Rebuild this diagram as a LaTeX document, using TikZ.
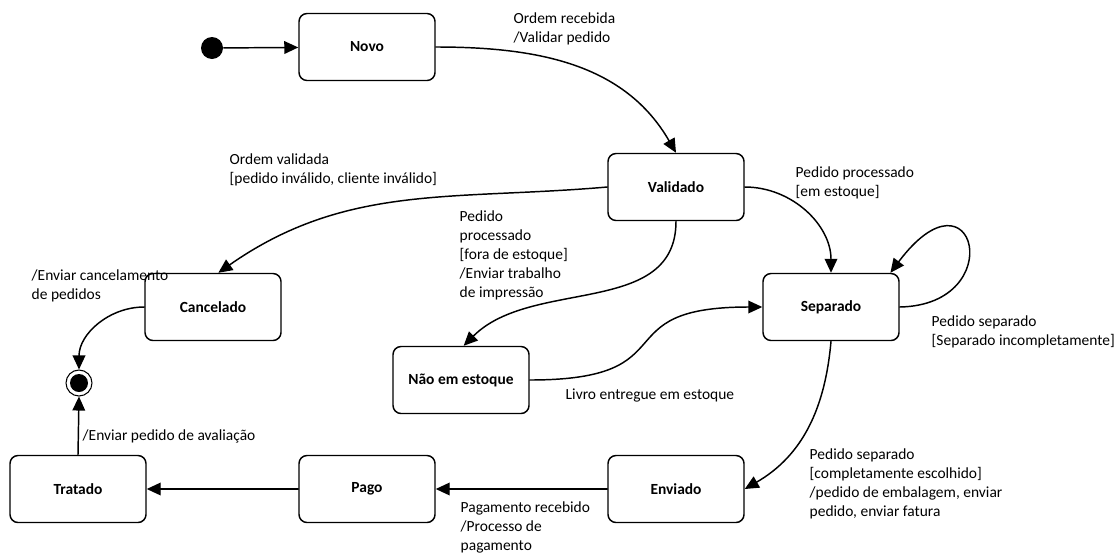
\documentclass[tikz,border=0pt]{standalone}
\usepackage{fontspec}
\setmainfont{Carlito}
\usetikzlibrary{arrows.meta}
\tikzset{
	estado/.style={draw,rounded corners=6pt,minimum width=102pt,minimum height=50.25pt,inner sep=0pt,font=\fontsize{11.6}{14.25}\selectfont\bfseries},
	rotulo/.style={anchor=west,align=left,inner sep=0pt,font=\fontsize{11.6}{14.25}\selectfont},
	seta/.style={-{Triangle[length=10.5pt,width=9.5pt]}}
}
\begin{document}
\begin{tikzpicture}[line cap=round,line join=round,x=0.75pt,y=0.75pt,line width=1.1pt]
				\useasboundingbox (0,0) rectangle (1116,-554);
				\node[circle,fill=black,minimum size=16.5pt,inner sep=0pt] (ini) at (212,-48) {};
				\node[estado] (nov) at (367,-47) {Novo};
				\node[estado] (val) at (676,-187) {Validado};
				\node[estado] (can) at (213,-307) {Cancelado};
				\node[estado] (sep) at (831,-307) {Separado};
				\node[estado] (nao) at (461,-380) {Não em estoque};
				\node[estado] (tra) at (78,-489) {Tratado};
				\node[estado] (pag) at (367,-489) {Pago};
				\node[estado] (env) at (676,-489) {Enviado};
				\node[circle,draw,line width=0.8pt,minimum size=19.5pt,inner sep=0pt] (fim) at (79,-383) {};
				\node[circle,fill=black,minimum size=13.5pt,inner sep=0pt] (fimc) at (fim) {};
				\node[rotulo] (lnov) at (513,-28.5) {Ordem recebida\\/Validar pedido};
				\node[rotulo] (lcan) at (229,-169.5) {Ordem validada\\{[}pedido inválido, cliente inválido{]}};
				\node[rotulo] (lsep) at (795,-183) {Pedido processado\\{[}em estoque{]}};
				\node[rotulo] (lnao) at (459,-255.5) {Pedido\\processado\\{[}fora de estoque{]}\\/Enviar trabalho\\de impressão};
				\node[rotulo] (lfim) at (31,-286) {/Enviar cancelamento\\de pedidos};
				\node[rotulo] (lloop) at (931,-332) {Pedido separado\\{[}Separado incompletamente{]}};
				\node[rotulo] (lliv) at (565,-395) {Livro entregue em estoque};
				\node[rotulo] (lenv) at (809,-484) {Pedido separado\\{[}completamente escolhido{]}\\/pedido de embalagem, enviar\\pedido, enviar fatura};
				\node[rotulo] (lpag) at (460,-527.5) {Pagamento recebido\\/Processo de\\pagamento};
				\node[rotulo] (ltra) at (82,-436) {/Enviar pedido de avaliação};
				\draw [seta] (ini) -- (nov);
				\draw [seta] (nov.east) to[out=0,in=120] (val.north);
				\draw [seta] (val.west) to[out=185,in=35] ([xshift=4pt]can.north);
				\draw [seta] (val.east) to[out=0,in=90] (sep.north);
				\draw [seta] (val.south) to[out=-90,in=45] ([xshift=2pt]nao.north);
				\draw [seta] (nao.east) to[out=0,in=180,looseness=1.7] (sep.west);
				\draw [seta] (sep.east) .. controls (1010,-305) and (975,-160) .. ([xshift=-7pt]sep.north east);
				\draw [seta] (sep.south) to[out=-95,in=30] (env.east);
				\draw [seta] (env) -- (pag);
				\draw [seta] (pag) -- (tra);
				\draw [seta] (tra.north) -- (fim.south);
				\draw [seta] (can.west) to[out=180,in=90] (fim.north);
			\end{tikzpicture}
\end{document}
